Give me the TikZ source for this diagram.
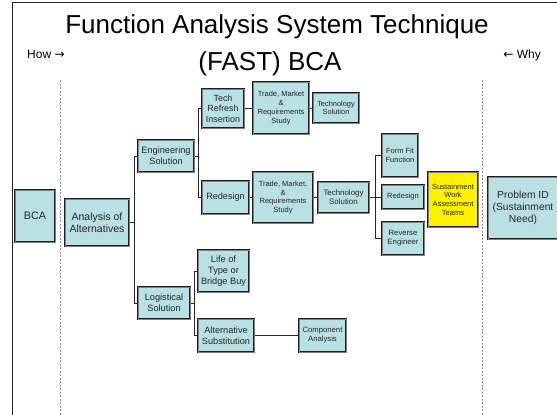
\documentclass[tikz,border=0pt]{standalone}
\usepackage{fontspec}
\setmainfont{Liberation Sans}
\newfontfamily\arrowfont{DejaVu Sans}
\usetikzlibrary{calc}
\definecolor{boxfill}{RGB}{185,225,228}
\definecolor{boxedge}{RGB}{30,30,30}
\definecolor{dashgray}{RGB}{140,140,140}
\newcommand{\fs}[1]{\fontsize{#1}{1.17\dimexpr#1pt\relax}\selectfont}
\tikzset{
  box/.style={draw=boxedge, line width=1pt, double=black!50, double distance=0.9pt,
    fill=boxfill, inner sep=0pt, align=center, text=black!85},
  conn/.style={draw=black!85, line width=0.7pt},
  guide/.style={draw=dashgray, line width=0.8pt, dash pattern=on 2pt off 1.5pt},
}
\begin{document}
\begin{tikzpicture}[x=1pt,y=-1pt]
\useasboundingbox (0,0) rectangle (557,415);
% frame
\coordinate (fb) at (12.5,415);
\coordinate (fc) at (12.5,2.5);
\coordinate (fr) at (557,2.5);
\draw[draw=black!85, line width=1pt] (fb) -- (fc) -- (fr);
% guides
\coordinate (g1a) at (60,80); \coordinate (g1b) at (60,415);
\coordinate (g2a) at (482,80); \coordinate (g2b) at (482,415);
\draw[guide] (g1a) -- (g1b);
\draw[guide] (g2a) -- (g2b);
% title
\node[anchor=base, inner sep=0pt, font=\fs{26}] (t1) at (277,33) {Function Analysis System Technique};
\node[anchor=base, inner sep=0pt, font=\fs{26}] (t2) at (270,70) {(FAST) BCA};
\node[anchor=base west, inner sep=0pt, font=\fs{12}] (how) at (27,58) {How {\arrowfont\fontsize{12}{14}\selectfont →}};
\node[anchor=base east, inner sep=0pt, font=\fs{12}] (why) at (541,58) {{\arrowfont\fontsize{12}{14}\selectfont ←} Why};
% boxes
\node[box, minimum width=40pt, minimum height=52pt, font=\fs{10.8}] (bca) at (35,216) {BCA};
\node[box, minimum width=64pt, minimum height=47pt, font=\fs{10.5}] (aoa) at (97,222.5) {Analysis of\\Alternatives};
\node[box, minimum width=56pt, minimum height=32pt, font=\fs{9.2}] (eng) at (166,156) {Engineering\\Solution};
\node[box, minimum width=42pt, minimum height=39pt, font=\fs{8.9}] (tri) at (223,108.5) {Tech\\Refresh\\Insertion};
\node[box, minimum width=56pt, minimum height=52pt, font=\fs{7.5}] (tms1) at (281,108) {Trade, Market\\\&\\Requirements\\Study};
\node[box, minimum width=46pt, minimum height=30pt, font=\fs{7.4}] (ts1) at (336,108) {Technology\\Solution};
\node[box, minimum width=47pt, minimum height=33pt, font=\fs{9.1}] (red1) at (225.5,197.5) {Redesign};
\node[box, minimum width=60pt, minimum height=51pt, font=\fs{7.5}] (tms2) at (283,197.5) {Trade, Market,\\\&\\Requirements\\Study};
\node[box, minimum width=51pt, minimum height=31pt, font=\fs{7.9}] (ts2) at (343.5,197.5) {Technology\\Solution};
\node[box, minimum width=36pt, minimum height=43pt, font=\fs{7.5}] (fff) at (400,155.5) {Form Fit\\Function};
\node[box, minimum width=42pt, minimum height=24pt, font=\fs{7.5}] (red2) at (403,197) {Redesign};
\node[box, minimum width=42pt, minimum height=33pt, font=\fs{7.7}] (rev) at (403,238.5) {Reverse\\Engineer};
\node[box, fill=yellow, minimum width=50pt, minimum height=55pt, font=\fs{7.5}] (swat) at (453,199.5) {Sustainment\\Work\\Assessment\\Teams};
\node[box, minimum width=70pt, minimum height=62pt, font=\fs{10.3}] (pid) at (523,208) {Problem ID\\(Sustainment\\Need)};
\node[box, minimum width=51pt, minimum height=42pt, font=\fs{9.2}] (life) at (223.5,271) {Life of\\Type or\\Bridge Buy};
\node[box, minimum width=52pt, minimum height=32pt, font=\fs{9.2}] (logi) at (164,303) {Logistical\\Solution};
\node[box, minimum width=56pt, minimum height=33pt, font=\fs{9.2}] (alt) at (226,335.5) {Alternative\\Substitution};
\node[box, minimum width=47pt, minimum height=33pt, font=\fs{7.7}] (comp) at (322.5,335.5) {Component\\Analysis};
% connectors
\draw[conn] (aoa.east) -- ++(5,0) |- (eng.west);
\draw[conn] (aoa.east) -- ++(5,0) |- (logi.west);
\draw[conn] (eng.east) -- ++(4,0) |- (tri.west);
\draw[conn] (eng.east) -- ++(4,0) |- (red1.west);
\draw[conn] (tri.east) -- (tms1.west |- tri.east);
\draw[conn] (tms1.east |- ts1.west) -- (ts1.west);
\draw[conn] (red1.east) -- (tms2.west |- red1.east);
\draw[conn] (tms2.east |- ts2.west) -- (ts2.west);
\coordinate (bus3) at ($(ts2.east)+(6,0)$);
\draw[conn, line width=1.6pt] (ts2.east) -- (bus3);
\draw[conn] (bus3) |- (fff.west);
\draw[conn] (bus3) |- (rev.west);
\draw[conn] (bus3) -- (red2.west -| bus3) -- (red2.west);
\draw[conn] (logi.east) -- ++(4,0) |- (life.west);
\draw[conn] (logi.east) -- ++(4,0) |- (alt.west);
\draw[conn] (alt.east) -- (comp.west);
\end{tikzpicture}
\end{document}
